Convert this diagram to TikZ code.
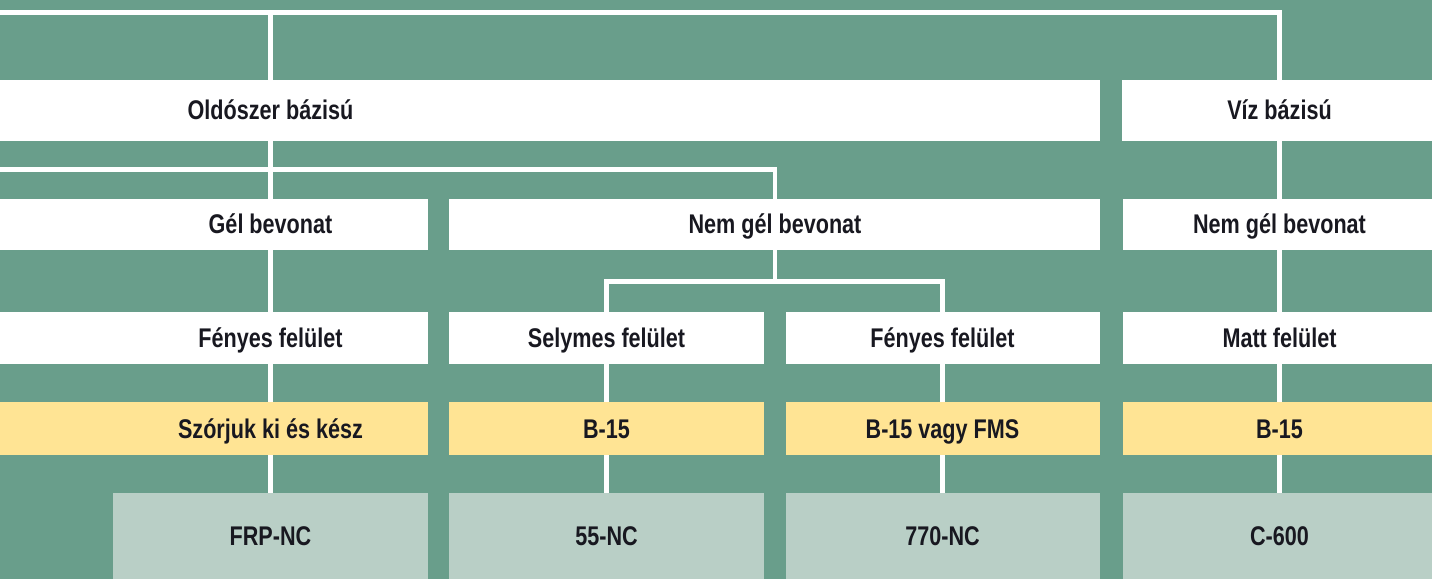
\documentclass[tikz,border=0pt]{standalone}
\usepackage{fontspec}
\newfontfamily\lab{Liberation Sans}[FakeStretch=0.8]
\definecolor{bggreen}{RGB}{105,158,139}
\definecolor{lightgreen}{RGB}{185,207,198}
\definecolor{paleyellow}{RGB}{255,228,148}
\definecolor{ink}{RGB}{24,24,32}
\pgfdeclarelayer{bg}
\pgfdeclarelayer{lines}
\pgfsetlayers{bg,lines,main}
\tikzset{
  box/.style={fill=white, draw=none, inner sep=0pt, anchor=north west},
  ybox/.style={box, fill=paleyellow},
  gbox/.style={box, fill=lightgreen},
  txt/.style={font=\lab\bfseries\fontsize{27}{30}\selectfont, text=ink, inner sep=0pt, text height=19.5pt, text depth=0pt},
  conn/.style={draw=white, line width=4.6pt, line join=miter}
}
\begin{document}
\begin{tikzpicture}[x=1pt, y=-1pt]
\begin{pgfonlayer}{bg}
  \fill[bggreen] (0,0) rectangle (1432,579);
\end{pgfonlayer}
\useasboundingbox (0,0) rectangle (1432,579);

% row 1
\node[box, minimum width=1100pt, minimum height=61pt] (olds) at (0,80) {};
\node[box, minimum width=310pt, minimum height=61pt] (viz) at (1122,80) {};
% row 2
\node[box, minimum width=428pt, minimum height=51pt] (gel) at (0,199) {};
\node[box, minimum width=651pt, minimum height=51pt] (nem1) at (449,199) {};
\node[box, minimum width=309pt, minimum height=51pt] (nem2) at (1123,199) {};
% row 3
\node[box, minimum width=428pt, minimum height=52pt] (fen1) at (0,312) {};
\node[box, minimum width=315pt, minimum height=52pt] (sely) at (449,312) {};
\node[box, minimum width=314pt, minimum height=52pt] (fen2) at (786,312) {};
\node[box, minimum width=309pt, minimum height=52pt] (matt) at (1123,312) {};
% row 4
\node[ybox, minimum width=428pt, minimum height=53pt] (szor) at (0,402) {};
\node[ybox, minimum width=315pt, minimum height=53pt] (b15a) at (449,402) {};
\node[ybox, minimum width=314pt, minimum height=53pt] (b15f) at (786,402) {};
\node[ybox, minimum width=309pt, minimum height=53pt] (b15b) at (1123,402) {};
% row 5
\node[gbox, minimum width=315pt, minimum height=86pt] (frp) at (113,493) {};
\node[gbox, minimum width=315pt, minimum height=86pt] (nc55) at (449,493) {};
\node[gbox, minimum width=314pt, minimum height=86pt] (nc770) at (786,493) {};
\node[gbox, minimum width=309pt, minimum height=86pt] (c600) at (1123,493) {};

% texts
\node[txt] (olds-t) at (270.5,109.5) {Oldószer bázisú};
\node[txt] (viz-t) at (1279.5,109.5) {Víz bázisú};
\node[txt] (gel-t) at (270.5,224) {Gél bevonat};
\node[txt] (nem1-t) at (775,224) {Nem gél bevonat};
\node[txt] (nem2-t) at (1279.5,224) {Nem gél bevonat};
\node[txt] (fen1-t) at (270.5,337.5) {Fényes felület};
\node[txt] (sely-t) at (606.5,337.5) {Selymes felület};
\node[txt] (fen2-t) at (942.5,337.5) {Fényes felület};
\node[txt] (matt-t) at (1279.5,337.5) {Matt felület};
\node[txt] (szor-t) at (270.5,428.5) {Szórjuk ki és kész};
\node[txt] (b15a-t) at (606.5,428.5) {B-15};
\node[txt] (b15f-t) at (942.5,428.5) {B-15 vagy FMS};
\node[txt] (b15b-t) at (1279.5,428.5) {B-15};
\node[txt] (frp-t) at (270.5,536) {FRP-NC};
\node[txt] (nc55-t) at (606.5,536) {55-NC};
\node[txt] (nc770-t) at (942.5,536) {770-NC};
\node[txt] (c600-t) at (1279.5,536) {C-600};

\coordinate (tl) at (0,12.5);
\coordinate (ml) at (0,169.5);
\coordinate (sp) at (775,281.5);

\begin{pgfonlayer}{lines}
  \draw[conn] (tl) -| (c600-t |- c600.north);
  \draw[conn] (olds-t |- tl) -- (frp-t |- frp.north);
  \draw[conn] (ml) -| (nem1-t |- nem1.north);
  \draw[conn] (nem1-t |- nem1.south) -- (sp);
  \draw[conn] (nc55-t |- nc55.north) |- (sp) -| (nc770-t |- nc770.north);
\end{pgfonlayer}
\end{tikzpicture}
\end{document}
